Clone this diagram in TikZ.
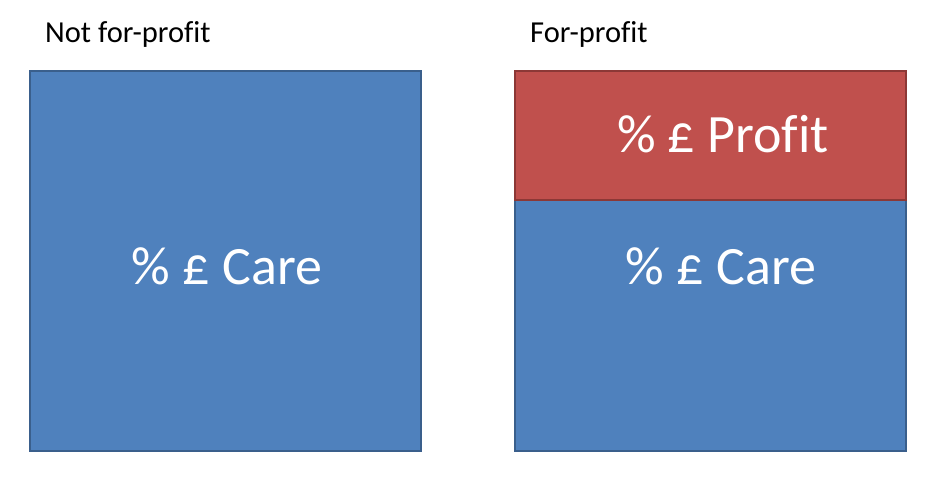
\documentclass[tikz,border=0pt]{standalone}
\usepackage{fontspec}
\setmainfont{Carlito}[Ligatures=NoCommon]
\definecolor{boxblue}{HTML}{4F81BD}
\definecolor{boxblueline}{HTML}{3A5F8C}
\definecolor{boxred}{HTML}{C0504D}
\definecolor{boxredline}{HTML}{8C3836}
\begin{document}
\begin{tikzpicture}[x=1pt,y=-1pt,
  bluebox/.style={draw=boxblueline,fill=boxblue,line width=2.5pt,inner sep=0pt,outer sep=0pt,rectangle},
  redbox/.style={draw=boxredline,fill=boxred,line width=2.5pt,inner sep=0pt,outer sep=0pt,rectangle},
  heading/.style={anchor=base west,inner sep=0pt,font=\fontsize{30.5}{34}\selectfont,text=black},
  big/.style={anchor=base,inner sep=0pt,font=\fontsize{54}{60}\selectfont,text=white}]
\useasboundingbox (0,0) rectangle (939,479);
\node[bluebox,minimum width=391pt,minimum height=380pt] (leftbox) at (225.5,261) {};
\node[bluebox,minimum width=391pt,minimum height=251pt] (rightcare) at (710.5,325.5) {};
\node[redbox,minimum width=391pt,minimum height=129pt] (rightprofit) at (710.5,135.5) {};
\node[heading] (lefttitle) at (45,42) {Not for-profit};
\node[heading] (righttitle) at (530,42) {For-profit};
\node[big] (leftcare) at (227,284) {\% £ Care};
\node[big] (rightcaretext) at (721,284) {\% £ Care};
\node[big] (profittext) at (723,152) {\% £ Profit};
\end{tikzpicture}
\end{document}
